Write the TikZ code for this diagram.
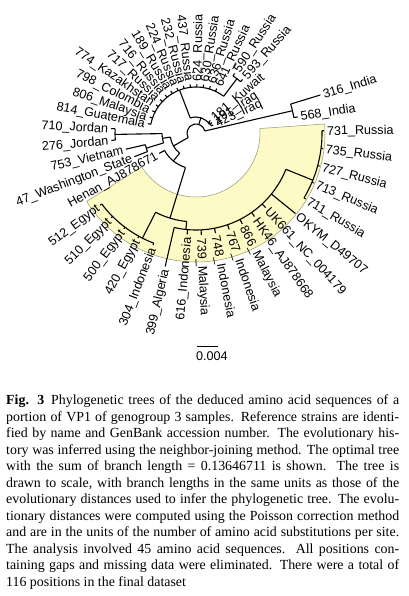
\documentclass[tikz,border=0pt]{standalone}
\usepackage{fontspec}
\setmainfont{Liberation Serif}
\newfontfamily\labfont{Liberation Sans}
\usetikzlibrary{calc}
\definecolor{bandfill}{RGB}{253,250,198}
\definecolor{bandline}{RGB}{150,150,120}
\newcommand\rline[3]{\draw[br] ($(C)+(#1:#2pt)$) -- ($(C)+(#1:#3pt)$);}
\newcommand\rarc[3]{\draw[br] ($(C)+(#1:#3pt)$) arc[start angle=#1, end angle=#2, radius=#3pt];}
\newcommand\leafR[4]{\rline{#1}{#2}{#3}\pgfmathsetmacro\labr{#3+3}%
  \node[lab,anchor=west,rotate=#1] (L#1) at ($(C)+(#1:\labr pt)$) {#4};}
\newcommand\leafL[4]{\rline{#1}{#2}{#3}\pgfmathsetmacro\labr{#3+3}%
  \node[lab,anchor=east,rotate=#1-180] (L#1) at ($(C)+(#1:\labr pt)$) {#4};}
\begin{document}
\begin{tikzpicture}[x=1pt,y=1pt,
  br/.style={line width=1.1pt},
  lab/.style={font=\labfont\fontsize{12.6}{14}\selectfont, inner sep=0pt, outer sep=0pt, text height=9pt, text depth=0pt},
]
\useasboundingbox (0,0) rectangle (408,-596);
\fill[white] (0,0) rectangle (408,-596);
\coordinate (C) at (196,-133);

% highlighted band
\filldraw[fill=bandfill, draw=bandline, line width=0.5pt]
  ($(C)+(212:64pt)$) arc[start angle=212, end angle=364, radius=64pt]
  -- ($(C)+(4:129pt)$) arc[start angle=4, end angle=-148, radius=129pt] -- cycle;

% internal branches
\rarc{13}{210}{9}          % root
\rline{13}{9}{99} \rarc{9}{17}{99}     % India
\rline{72}{9}{16} \rarc{33}{111}{16}   % U
\rline{33}{16}{17} \rarc{25}{41}{17}   % Kuwait / Iraq
\rline{111}{16}{46} \rarc{53}{169}{46} % top clade
\rline{53}{46}{68} \rarc{49}{57}{68}   % 590/593
\rline{210}{9}{26} \rarc{189}{231}{26} % left
\rline{189}{26}{34} \rarc{181}{197}{34}
\rline{181}{34}{81} \rarc{177}{185}{81}
\rline{197}{34}{52} \rarc{193}{201}{52}
\rline{231}{26}{36} \rarc{209}{253}{36}
\rline{253}{36}{89} \rarc{243}{264}{89} % yellow clade
\rline{243}{89}{118} \rarc{217}{249}{118} % Egypt
\rline{264}{89}{97} \rarc{257}{338}{97}
\rline{338}{97}{126} \rarc{329}{361}{126}

% leaves, right half
\leafR{1}{126}{128}{731\_Russia}
\leafR{-7}{126}{128}{735\_Russia}
\leafR{-15}{126}{128}{727\_Russia}
\leafR{-23}{126}{128}{713\_Russia}
\leafR{-31}{126}{128}{711\_Russia}
\leafR{-39}{97}{128}{OKYM\_D49707}
\leafR{-47}{97}{102}{UK661\_NC\_004179}
\leafR{-55}{97}{102}{HK46\_AJ878668}
\leafR{-63}{97}{102}{866\_Malaysia}
\leafR{-71}{97}{102}{767\_Indonesia}
\leafR{-79}{97}{102}{748\_Indonesia}
\leafR{-87}{97}{102}{739\_Malaysia}
% left half
\leafL{-95}{97}{102}{616\_Indonesia}
\leafL{-103}{97}{137}{399\_Algeria}
\leafL{-111}{118}{120}{304\_Indonesia}
\leafL{-119}{118}{120}{420\_Egypt}
\leafL{-127}{118}{120}{500\_Egypt}
\leafL{-135}{118}{120}{510\_Egypt}
\leafL{-143}{118}{120}{512\_Egypt}
\leafL{209}{36}{42}{Henan\_AJ878671}
\leafL{201}{52}{66}{47\_Washington\_State}
\leafL{193}{52}{72}{753\_Vietnam}
\leafL{185}{81}{85}{276\_Jordan}
\leafL{177}{81}{85}{710\_Jordan}
\leafL{169}{46}{49}{814\_Guatemala}
\leafL{161}{46}{49}{806\_Malaysia}
\leafL{153}{46}{49}{798\_Colombia}
\leafL{145}{46}{49}{774\_Kazakhstan}
\leafL{137}{46}{49}{717\_Russia}
\leafL{129}{46}{49}{716\_Russia}
\leafL{121}{46}{49}{189\_Russia}
\leafL{113}{46}{49}{224\_Russia}
\leafL{105}{46}{49}{232\_Russia}
\leafL{97}{46}{49}{437\_Russia}
% top right
\leafR{89}{46}{49}{624\_Russia}
\leafR{81}{46}{49}{630\_Russia}
\leafR{73}{46}{49}{636\_Russia}
\leafR{65}{46}{49}{641\_Russia}
\leafR{57}{68}{71}{590\_Russia}
\leafR{49}{68}{71}{593\_Russia}
\leafR{41}{17}{19}{181\_Kuwait}
\leafR{33}{17}{19}{191\_Iraq}
\leafR{25}{17}{19}{423\_Iraq}
\leafR{17}{99}{130}{316\_India}
\leafR{9}{99}{103}{568\_India}

% scale bar
\coordinate (s1) at (197,-346);
\coordinate (s2) at (218,-346);
\draw[line width=1pt] (s1) -- (s2);
\node[lab, anchor=north west] (scale) at (196,-351.5) {0.004};

% caption
\node[anchor=north west, inner sep=0pt, text width=393pt, align=justify,
      font=\fontsize{13.9}{16.55}\selectfont] (cap) at (6,-394.5)
{\tolerance=9999\textbf{Fig. 3}\enspace Phylogenetic trees of the deduced amino acid sequences of a\linebreak
portion of VP1 of genogroup 3 samples. Reference strains are identi-\linebreak
fied by name and GenBank accession number. The evolutionary his-\linebreak
tory was inferred using the neighbor-joining method. The optimal tree\linebreak
with the sum of branch length = 0.13646711 is shown. The tree is\linebreak
drawn to scale, with branch lengths in the same units as those of the\linebreak
evolutionary distances used to infer the phylogenetic tree. The evolu-\linebreak
tionary distances were computed using the Poisson correction method\linebreak
and are in the units of the number of amino acid substitutions per site.\linebreak
The analysis involved 45 amino acid sequences. All positions con-\linebreak
taining gaps and missing data were eliminated. There were a total of\linebreak
116 positions in the final dataset};
\end{tikzpicture}
\end{document}
